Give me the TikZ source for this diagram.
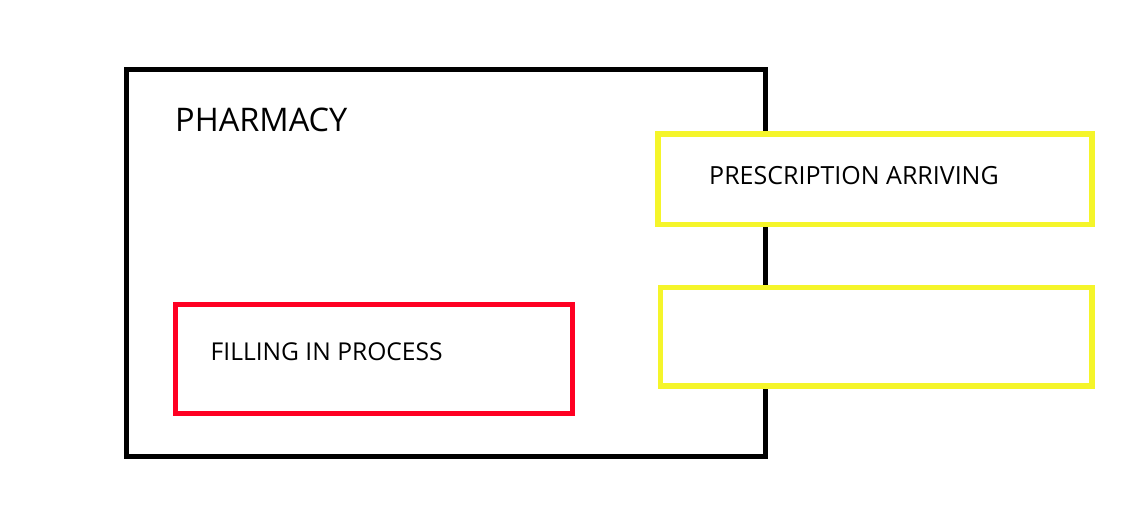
\documentclass[tikz,border=0pt]{standalone}
\usepackage{fontspec}
\setmainfont{Open Sans}
\definecolor{ylw}{HTML}{F5F52A}
\definecolor{rd}{HTML}{FF0022}
\begin{document}
\begin{tikzpicture}[x=1pt,y=-1pt,
  frame/.style={draw=black,line width=5pt},
  ybox/.style={draw=ylw,fill=white,line width=5.5pt},
  rbox/.style={draw=rd,line width=5pt},
  lbl/.style={anchor=base west,inner sep=0pt,font=\fontsize{24.6}{24}\selectfont}]
\useasboundingbox (0,0) rectangle (1138,524);
\draw[frame] (126,70) rectangle (765.5,456);
\node[lbl,font=\fontsize{32.5}{32}\selectfont] (pharm) at (175,132) {PHARMACY};
\draw[ybox] (658,134) rectangle (1092,224.5);
\node[lbl,font=\fontsize{25}{25}\selectfont] (presc) at (709,184) {PRESCRIPTION ARRIVING};
\draw[ybox] (660.5,287.5) rectangle (1092,386);
\draw[rbox] (175,304.5) rectangle (572,413);
\node[lbl] (fill) at (210.5,360.5) {FILLING IN PROCESS};
\end{tikzpicture}
\end{document}
